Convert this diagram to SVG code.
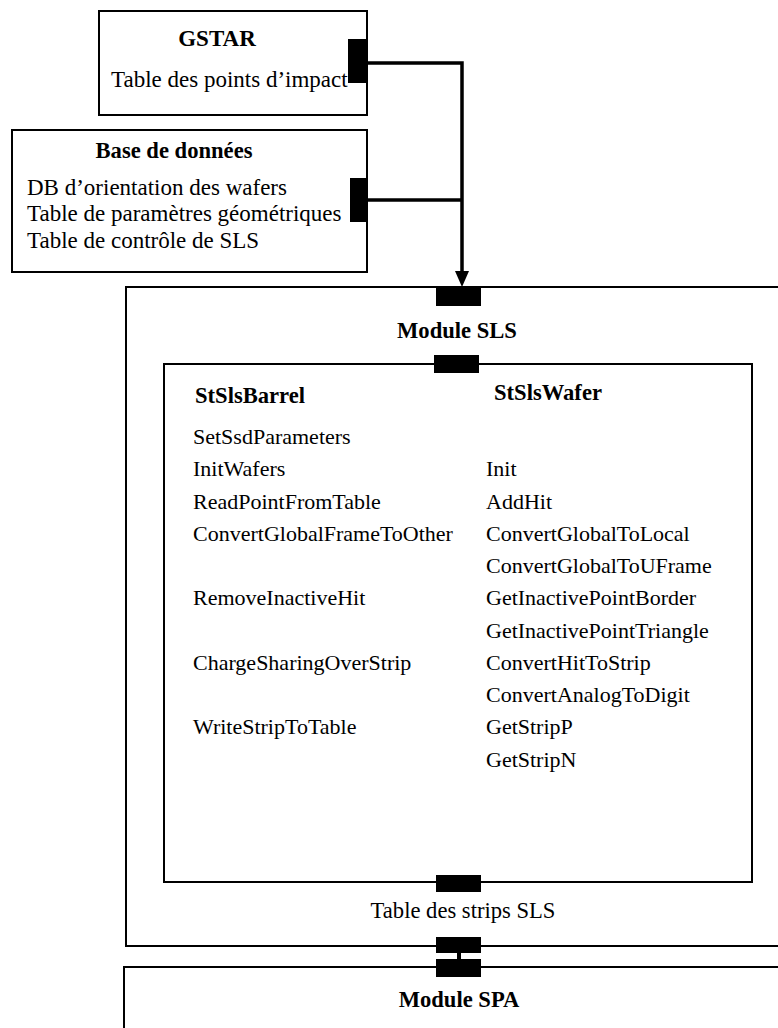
<svg xmlns="http://www.w3.org/2000/svg" width="778" height="1028" viewBox="0 0 778 1028">
<style>
.box{fill:#fff;stroke:#000;stroke-width:2}
.port{fill:#000}
text{font-family:'Liberation Serif','DejaVu Serif','Times New Roman',serif;font-size:22px;fill:#000}
.b{font-weight:bold;font-size:22.6px}
.c{text-anchor:middle}
.mid{font-size:22.6px}
.big{font-size:23px}
.wire{fill:none;stroke:#000;stroke-width:3.5}
</style>
<rect width="778" height="1028" fill="#fff"/>
<g id="module-sls">
<rect class="box" x="126" y="287" width="700" height="659"/>
<text class="b c" x="457" y="338">Module SLS</text>
<text class="c mid" x="463" y="918">Table des strips SLS</text>
<rect class="port" x="436" y="287" width="45" height="19"/>
<rect class="port" x="436" y="937" width="45" height="16"/>
</g>
<g id="module-spa">
<rect class="box" x="124" y="967" width="700" height="100"/>
<text class="b c" x="459" y="1007">Module SPA</text>
<rect class="port" x="436" y="959" width="45" height="18"/>
</g>
<g id="classes">
<rect class="box" x="164" y="364" width="588" height="518"/>
<rect class="port" x="434" y="355" width="45" height="18"/>
<rect class="port" x="436" y="875" width="45" height="17"/>
<text class="b" x="195" y="403">StSlsBarrel</text>
<text class="b" x="494" y="400">StSlsWafer</text>
<text x="193" y="444">SetSsdParameters</text>
<text x="193" y="476">InitWafers</text>
<text x="193" y="509">ReadPointFromTable</text>
<text x="193" y="541">ConvertGlobalFrameToOther</text>
<text x="193" y="605">RemoveInactiveHit</text>
<text x="193" y="670">ChargeSharingOverStrip</text>
<text x="193" y="734">WriteStripToTable</text>
<text x="486" y="476">Init</text>
<text x="486" y="509">AddHit</text>
<text x="486" y="541">ConvertGlobalToLocal</text>
<text x="486" y="573">ConvertGlobalToUFrame</text>
<text x="486" y="605">GetInactivePointBorder</text>
<text x="486" y="638">GetInactivePointTriangle</text>
<text x="486" y="670">ConvertHitToStrip</text>
<text x="486" y="702">ConvertAnalogToDigit</text>
<text x="486" y="734">GetStripP</text>
<text x="486" y="767">GetStripN</text>
</g>
<g id="gstar">
<rect class="box" x="99" y="11" width="268" height="104"/>
<text class="b c big" x="217" y="46">GSTAR</text>
<text class="big" x="111" y="87">Table des points d’impact</text>
<rect class="port" x="348" y="39" width="19" height="44"/>
</g>
<g id="database">
<rect class="box" x="12" y="130" width="355" height="142"/>
<text class="b c" x="174" y="158">Base de données</text>
<text class="big" x="27" y="195">DB d’orientation des wafers</text>
<text class="big" x="27" y="221">Table de paramètres géométriques</text>
<text class="big" x="27" y="248">Table de contrôle de SLS</text>
<rect class="port" x="350" y="178" width="17" height="44"/>
</g>
<g id="connectors">
<path class="wire" d="M367,63 H462 V272"/>
<path class="wire" d="M367,200 H462"/>
<path d="M455,271 L469,271 L462,287 Z" fill="#000"/>
<rect x="457" y="952" width="4" height="8" fill="#000"/>
</g>
</svg>
